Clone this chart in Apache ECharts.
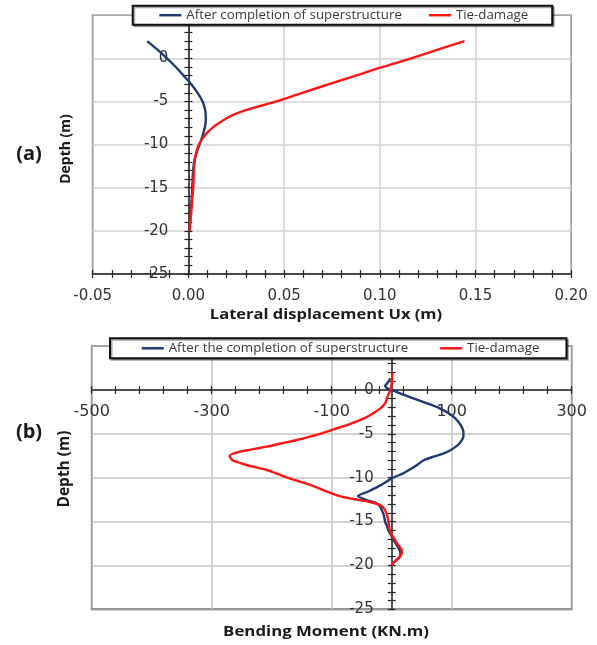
<!DOCTYPE html>
<html>
<head>
<meta charset="utf-8">
<script src="https://cdn.jsdelivr.net/npm/echarts@6/dist/echarts.min.js"></script>
<style>
  html, body { margin: 0; padding: 0; background: #ffffff; }
  #chart { width: 597px; height: 645px; }
</style>
</head>
<body>
<div id="chart"></div>
<script>
// ---- (a) Lateral displacement along the pile ----
const uxTicks = [-0.05, 0.00, 0.05, 0.10, 0.15, 0.20];
const depthTicks = [-25, -20, -15, -10, -5, 0, 5];

const depthA = [2, 1, 0, -1, -2, -3, -4, -5, -5.5, -6, -6.5, -7, -8, -9, -10,
                -11, -12, -13, -14, -15, -16, -17, -18, -19, -20];
const uxCompletion = [-0.0215, -0.0162, -0.0112, -0.0066, -0.0025, 0.0015, 0.0048, 0.0074, 0.0082,
                      0.0088, 0.0090, 0.0091, 0.0086, 0.0074, 0.0058, 0.0042, 0.0030, 0.0025,
                      0.0022, 0.0020, 0.0018, 0.0015, 0.0012, 0.0009, 0.0006];
const uxTieDamage = [0.1443, 0.1303, 0.1165, 0.1015, 0.0875, 0.0735, 0.0595, 0.0460, 0.0380,
                     0.0300, 0.0240, 0.0195, 0.0128, 0.0083, 0.0055, 0.0040, 0.0032, 0.0029,
                     0.0027, 0.0025, 0.0021, 0.0018, 0.0014, 0.0010, 0.0006];

// ---- (b) Bending moment along the pile ----
const momentTicks = [-500, -300, -100, 100, 300];

const depthBCompletion = [1.33, 0.8, 0.46, 0.15, 0, -0.5, -0.95, -1.5, -2.09, -2.7, -3.23, -4.0,
                          -4.75, -5.3, -5.7, -6.1, -6.46, -6.9, -7.2, -7.6, -7.98, -8.4, -8.75,
                          -9.12, -9.5, -10.07, -10.6, -11.1, -11.6, -12.1, -12.55, -12.93, -13.3,
                          -13.7, -14.3, -15, -15.5, -16, -16.5, -17.1, -17.6, -18.2, -18.6,
                          -18.97, -19.35, -19.7, -20];
const momentCompletion = [-2, -7, -11, -6, 0, 18, 36, 58, 80, 96, 106, 115,
                          119.5, 119.5, 117, 113, 107, 97, 88, 70, 54, 45, 38,
                          29, 19, 0, -12, -25, -40, -56, -42, -25, -19,
                          -16.5, -13, -11, -8, -5.5, -1.5, 3, 7.5, 12.7, 14.5,
                          13.9, 9, 3, 0];

const depthBTie = [2.0, 1.0, 0.3, 0, -0.76, -1.52, -2.1, -2.7, -3.3, -3.9, -4.5, -5.06, -5.32,
                   -5.7, -6.1, -6.46, -6.8, -7.03, -7.3, -7.53, -7.8, -8.06, -8.3, -8.55,
                   -9.12, -9.6, -10.07, -10.45, -10.83, -11.2, -11.6, -12.08, -12.3, -12.46,
                   -12.74, -13.1, -13.4, -13.7, -14.3, -15.0, -16.1, -16.6, -17.1, -17.7,
                   -18.2, -18.6, -18.97, -19.35, -19.7, -20];
const momentTie = [1, 0.5, -1, -2, -7, -11, -19, -32, -48, -70, -97, -122, -136,
                   -158, -185, -208, -235, -253, -266, -270, -268, -264, -253, -242,
                   -208, -189, -170, -153, -136, -122, -108, -88, -74, -62,
                   -38, -20, -14, -11, -7.5, -5.5, -2.8, 1, 5.5, 11,
                   16.7, 17, 13.9, 8, 2.8, 0];

const zip = (xs, ys) => xs.map((x, i) => [x, ys[i]]);

const INK = '#262626';
const LABEL_FONT = 'DejaVu Sans';
const TITLE_FONT = 'Open Sans';
const BLUE = '#1f3a70';
const RED = '#ff1414';

// Plot rectangles of the two panels
const gridA = { left: 92.7, top: 15.2, width: 478.5, height: 258.8 };
const gridB = { left: 91.7, top: 346.1, width: 480, height: 263.2 };

// Distance from the "min" edge of a panel to the value zero, in pixels
const zeroShift = (ticks, span) =>
  span * (0 - ticks[0]) / (ticks[ticks.length - 1] - ticks[0]);

function valueAxis(extra, ticks, minorSplit) {
  const base = {
    type: 'value',
    min: ticks[0],
    max: ticks[ticks.length - 1],
    interval: ticks[1] - ticks[0],
    minorTick: { show: true, splitNumber: minorSplit, length: 4, lineStyle: { color: INK, width: 1.2 } },
    minorSplitLine: { show: false }
  };
  return Object.assign(base, extra);
}

const outTick = () => ({ show: true, inside: false, length: 4, lineStyle: { color: INK, width: 1.2 } });
const inTick = () => ({ show: true, inside: true, length: 4, lineStyle: { color: INK, width: 1.2 } });

// Each axis is drawn twice: the main one (line, outward ticks, labels, grid lines)
// and a bare twin with inward ticks, so every tick crosses the axis line.
function axisPair(common, ticks, minorSplit, label, split) {
  return [
    valueAxis(Object.assign({
      axisLine: { show: true, onZero: false, lineStyle: { color: INK, width: 1.6 } },
      axisTick: outTick(),
      axisLabel: label,
      splitLine: split
    }, common), ticks, minorSplit),
    valueAxis(Object.assign({
      axisLine: { show: false, onZero: false },
      axisTick: inTick(),
      axisLabel: { show: false },
      splitLine: { show: false }
    }, common), ticks, minorSplit)
  ];
}

const depthLabel = v => (v > 0 ? '' : String(v));

const xAxes = [].concat(
  // (a) displacement axis along the bottom edge
  axisPair({ gridIndex: 0, position: 'bottom', offset: 0 }, uxTicks, 5,
    { show: true, margin: 15, fontFamily: LABEL_FONT, fontSize: 15, color: '#333',
      showMinLabel: true, showMaxLabel: true, formatter: v => v.toFixed(2) },
    { show: true, lineStyle: { color: '#d2d2d2', width: 1.5 } }),
  // (b) moment axis through zero depth
  axisPair({ gridIndex: 1, position: 'bottom',
             offset: -(gridB.height - zeroShift(depthTicks.slice().reverse().map(v => -v), gridB.height)) },
    momentTicks, 5,
    { show: true, margin: 14, fontFamily: LABEL_FONT, fontSize: 16, color: '#333',
      showMinLabel: true, showMaxLabel: true },
    { show: true, lineStyle: { color: '#c4c4c4', width: 1.5 } })
);

const yAxes = [].concat(
  axisPair({ gridIndex: 0, position: 'left', offset: -zeroShift(uxTicks, gridA.width) },
    depthTicks, 5,
    { show: true, margin: 20, fontFamily: LABEL_FONT, fontSize: 15, color: '#333',
      showMinLabel: true, showMaxLabel: true, formatter: depthLabel },
    { show: true, lineStyle: { color: '#d2d2d2', width: 1.5 } }),
  axisPair({ gridIndex: 1, position: 'left', offset: -zeroShift(momentTicks, gridB.width) },
    depthTicks, 5,
    { show: true, margin: 18, fontFamily: LABEL_FONT, fontSize: 15, color: '#333',
      showMinLabel: true, showMaxLabel: true, formatter: depthLabel },
    { show: true, lineStyle: { color: '#c4c4c4', width: 1.5 } })
);

function profile(name, data, color, xi, yi) {
  return {
    name: name, type: 'line', xAxisIndex: xi, yAxisIndex: yi,
    data: data, symbol: 'none', smooth: 0.3,
    lineStyle: { color: color, width: 2.4 },
    itemStyle: { color: color },
    z: 3
  };
}

function legendBox(left, top, names, padding, gap) {
  return {
    left: left, top: top, orient: 'horizontal', data: names,
    icon: 'rect', itemWidth: 22, itemHeight: 2.5, itemGap: gap,
    padding: padding, backgroundColor: '#ffffff',
    borderColor: '#111111', borderWidth: 2,
    shadowColor: 'rgba(0,0,0,0.35)', shadowOffsetX: 1.5, shadowOffsetY: 1.5, shadowBlur: 0,
    selectedMode: false, z: 10,
    textStyle: { fontFamily: TITLE_FONT, fontSize: 13.3, color: '#3a3a3a' }
  };
}

function caption(text, x, y, size, rotate, stretch) {
  return {
    type: 'text', x: x, y: y, rotation: rotate ? Math.PI / 2 : 0,
    scaleX: rotate ? 1 : (stretch || 1), z: 20,
    style: {
      text: text, fill: '#1a1a1a',
      font: 'bold ' + size + 'px "' + TITLE_FONT + '"',
      textAlign: 'center', textVerticalAlign: 'middle'
    }
  };
}

const chart = echarts.init(document.getElementById('chart'), null, { renderer: 'canvas' });
chart.setOption({
  animation: false,
  backgroundColor: '#ffffff',
  grid: [
    Object.assign({ show: true, borderColor: INK, borderWidth: 1.6, backgroundColor: 'transparent',
                    containLabel: false, outerBoundsMode: 'none' }, gridA),
    Object.assign({ show: true, borderColor: INK, borderWidth: 1.6, backgroundColor: 'transparent',
                    containLabel: false, outerBoundsMode: 'none' }, gridB)
  ],
  xAxis: xAxes,
  yAxis: yAxes,
  legend: [
    legendBox(132.7, 5.7, ['After completion of superstructure', 'Tie-damage'], [3, 24, 3, 26.6], 27),
    legendBox(110, 338.3, ['After the completion of superstructure', 'Tie-damage'], [3.5, 27, 3.5, 31.7], 32)
  ],
  series: [
    profile('After completion of superstructure', zip(uxCompletion, depthA), BLUE, 0, 0),
    profile('Tie-damage', zip(uxTieDamage, depthA), RED, 0, 0),
    profile('After the completion of superstructure', zip(momentCompletion, depthBCompletion), BLUE, 2, 2),
    profile('Tie-damage', zip(momentTie, depthBTie), RED, 2, 2)
  ],
  graphic: [
    caption('(a)', 29, 154, 20, false),
    caption('Depth (m)', 66, 149, 14, true),
    caption('Lateral displacement Ux (m)', 326, 314.3, 15, false, 1.1),
    caption('(b)', 29, 432, 20, false),
    caption('Depth (m)', 65, 469, 15.5, true),
    caption('Bending Moment (KN.m)', 326, 631.7, 15, false, 1.12)
  ]
});
</script>
</body>
</html>
